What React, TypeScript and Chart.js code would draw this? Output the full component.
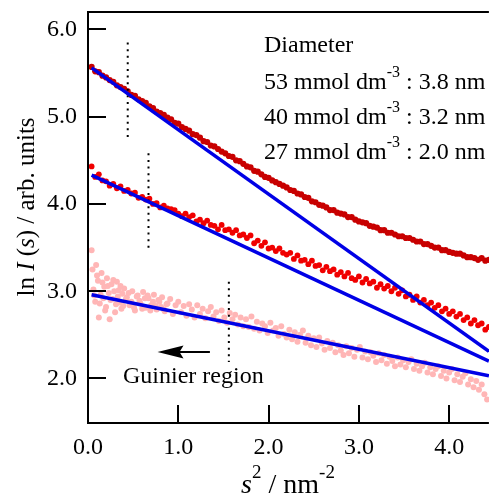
import React, { useEffect, useRef } from "react";
import { Chart, registerables } from "chart.js";

Chart.register(...registerables);

// s^2 grid (nm^-2) for the 53 and 40 mmol dm^-3 curves
const sGrid = [
  0.04, 0.08, 0.12, 0.16, 0.2, 0.24, 0.28, 0.32, 0.36, 0.4,
  0.44, 0.48, 0.52, 0.56, 0.6, 0.64, 0.68, 0.72, 0.76, 0.8,
  0.84, 0.88, 0.92, 0.96, 1.0, 1.04, 1.08, 1.12, 1.16, 1.2,
  1.24, 1.28, 1.32, 1.36, 1.4, 1.44, 1.48, 1.52, 1.56, 1.6,
  1.64, 1.68, 1.72, 1.76, 1.8, 1.84, 1.88, 1.92, 1.96, 2.0,
  2.04, 2.08, 2.12, 2.16, 2.2, 2.24, 2.28, 2.32, 2.36, 2.4,
  2.44, 2.48, 2.52, 2.56, 2.6, 2.64, 2.68, 2.72, 2.76, 2.8,
  2.84, 2.88, 2.92, 2.96, 3.0, 3.04, 3.08, 3.12, 3.16, 3.2,
  3.24, 3.28, 3.32, 3.36, 3.4, 3.44, 3.48, 3.52, 3.56, 3.6,
  3.64, 3.68, 3.72, 3.76, 3.8, 3.84, 3.88, 3.92, 3.96, 4.0,
  4.04, 4.08, 4.12, 4.16, 4.2, 4.24, 4.28, 4.32, 4.36, 4.4, 4.44,
];

// ln I(s), 53 mmol dm^-3
const lnI53 = [
  5.57, 5.52, 5.51, 5.47, 5.45, 5.42, 5.4, 5.36, 5.34, 5.32,
  5.29, 5.25, 5.24, 5.2, 5.18, 5.16, 5.12, 5.1, 5.06, 5.04,
  5.02, 4.99, 4.97, 4.93, 4.92, 4.88, 4.86, 4.84, 4.8, 4.79,
  4.76, 4.72, 4.71, 4.67, 4.66, 4.63, 4.6, 4.58, 4.55, 4.54,
  4.5, 4.49, 4.46, 4.43, 4.42, 4.38, 4.37, 4.34, 4.31, 4.3,
  4.27, 4.25, 4.23, 4.21, 4.19, 4.16, 4.15, 4.12, 4.11, 4.08,
  4.07, 4.03, 4.02, 3.99, 3.98, 3.96, 3.93, 3.93, 3.9, 3.89,
  3.88, 3.85, 3.85, 3.82, 3.8, 3.79, 3.78, 3.75, 3.74, 3.73,
  3.7, 3.7, 3.67, 3.67, 3.65, 3.63, 3.63, 3.61, 3.61, 3.59,
  3.57, 3.57, 3.54, 3.54, 3.52, 3.5, 3.5, 3.47, 3.47, 3.45,
  3.44, 3.43, 3.43, 3.41, 3.39, 3.39, 3.38, 3.36, 3.38, 3.35, 3.36,
];

// ln I(s), 40 mmol dm^-3
const lnI40 = [
  4.43, 4.31, 4.34, 4.27, 4.26, 4.21, 4.23, 4.18, 4.2, 4.15,
  4.16, 4.12, 4.13, 4.07, 4.08, 4.05, 4.06, 4.0, 4.01, 3.96,
  3.98, 3.95, 3.94, 3.93, 3.89, 3.86, 3.89, 3.85, 3.87, 3.8,
  3.82, 3.78, 3.81, 3.76, 3.75, 3.71, 3.76, 3.7, 3.71, 3.67,
  3.7, 3.64, 3.65, 3.61, 3.64, 3.55, 3.58, 3.52, 3.56, 3.49,
  3.5, 3.46, 3.49, 3.44, 3.42, 3.44, 3.37, 3.41, 3.35, 3.36,
  3.31, 3.35, 3.29, 3.3, 3.24, 3.28, 3.23, 3.25, 3.19, 3.22,
  3.17, 3.21, 3.15, 3.13, 3.17, 3.1, 3.14, 3.09, 3.11, 3.04,
  3.08, 3.03, 3.06, 3.0, 3.04, 2.97, 3.01, 2.94, 2.96, 2.9,
  2.94, 2.87, 2.9, 2.84, 2.87, 2.81, 2.84, 2.77, 2.8, 2.74,
  2.77, 2.71, 2.74, 2.67, 2.7, 2.63, 2.67, 2.61, 2.63, 2.56, 2.59,
];

// s^2 grid for the 27 mmol dm^-3 curve
const sGrid27 = [
  0.04, 0.07, 0.1, 0.13, 0.16, 0.19, 0.22, 0.25, 0.28, 0.31,
  0.34, 0.37, 0.4, 0.43, 0.46, 0.49, 0.52, 0.55, 0.58, 0.61,
  0.64, 0.67, 0.7, 0.73, 0.76, 0.79, 0.82, 0.85, 0.88, 0.91,
  0.94, 0.97, 1.0, 1.03, 1.06, 1.09, 1.12, 1.15, 1.18, 1.21,
  1.24, 1.27, 1.3, 1.33, 1.36, 1.39, 1.42, 1.45, 1.48, 1.51,
  1.54, 1.57, 1.6, 1.63, 1.66, 1.69, 1.72, 1.75, 1.78, 1.81,
  1.84, 1.87, 1.9, 1.93, 1.96, 1.99, 2.02, 2.05, 2.08, 2.11,
  2.14, 2.17, 2.2, 2.23, 2.26, 2.29, 2.32, 2.35, 2.38, 2.41,
  2.44, 2.47, 2.5, 2.53, 2.56, 2.59, 2.62, 2.65, 2.68, 2.71,
  2.74, 2.77, 2.8, 2.83, 2.86, 2.89, 2.92, 2.95, 2.98, 3.01,
  3.04, 3.07, 3.1, 3.13, 3.16, 3.19, 3.22, 3.25, 3.28, 3.31,
  3.34, 3.37, 3.4, 3.43, 3.46, 3.49, 3.52, 3.55, 3.58, 3.61,
  3.64, 3.67, 3.7, 3.73, 3.76, 3.79, 3.82, 3.85, 3.88, 3.91,
  3.94, 3.97, 4.0, 4.03, 4.06, 4.09, 4.12, 4.15, 4.18, 4.21,
  4.24, 4.27, 4.3, 4.33, 4.36, 4.39, 4.42,
];

// ln I(s), 27 mmol dm^-3
const lnI27 = [
  3.47, 2.95, 3.18, 2.86, 3.1, 2.78, 3.06, 2.9, 3.13, 2.85,
  3.01, 2.8, 3.03, 2.93, 2.84, 3.0, 2.78, 2.95, 2.86, 2.99,
  2.81, 2.92, 2.84, 2.96, 2.79, 2.88, 2.93, 2.77, 2.86, 2.91,
  2.74, 2.84, 2.88, 2.76, 2.83, 2.72, 2.85, 2.79, 2.7, 2.84,
  2.74, 2.8, 2.69, 2.77, 2.82, 2.71, 2.76, 2.66, 2.78, 2.7,
  2.64, 2.75, 2.68, 2.73, 2.62, 2.7, 2.6, 2.68, 2.59, 2.71,
  2.57, 2.65, 2.55, 2.63, 2.6, 2.52, 2.64, 2.55, 2.58, 2.49,
  2.6, 2.51, 2.47, 2.56, 2.45, 2.53, 2.42, 2.5, 2.55, 2.41,
  2.49, 2.38, 2.46, 2.36, 2.47, 2.4, 2.33, 2.43, 2.35, 2.41,
  2.3, 2.38, 2.32, 2.27, 2.37, 2.29, 2.35, 2.25, 2.33, 2.36,
  2.24, 2.31, 2.22, 2.3, 2.26, 2.19, 2.29, 2.21, 2.27, 2.17,
  2.25, 2.2, 2.14, 2.24, 2.16, 2.21, 2.13, 2.19, 2.22, 2.11,
  2.17, 2.09, 2.14, 2.18, 2.07, 2.13, 2.05, 2.11, 2.14, 2.03,
  2.09, 2.0, 2.07, 2.11, 1.98, 2.05, 1.96, 2.02, 2.06, 1.93,
  1.99, 1.9, 1.97, 1.87, 1.93, 1.82, 1.76,
];

// extra (denser) low-angle points of the 27 mmol dm^-3 curve
const sGrid27Low = [
  0.05, 0.06, 0.08, 0.09, 0.11, 0.12, 0.14, 0.15, 0.17, 0.18,
  0.2, 0.21, 0.23, 0.24, 0.26, 0.27, 0.29, 0.3, 0.32, 0.33,
  0.35, 0.36, 0.38, 0.39, 0.42, 0.45, 0.48, 0.51, 0.54, 0.57,
  0.6, 0.63, 0.66, 0.69, 0.72, 0.75, 0.78, 0.81, 0.84, 0.87,
];
const lnI27Low = [
  3.25, 3.02, 2.88, 3.3, 3.12, 2.7, 2.96, 3.21, 2.92, 3.05,
  2.82, 3.15, 2.98, 2.68, 3.08, 2.91, 3.0, 2.76, 3.11, 2.94,
  2.87, 3.06, 2.97, 2.83, 2.91, 2.98, 2.88, 2.81, 2.94, 2.89,
  2.8, 2.92, 2.95, 2.78, 2.88, 2.83, 2.9, 2.82, 2.79, 2.85,
];

// Guinier fit lines (end points)
const fitS = [0.04, 4.44];
const fit53 = [5.56, 2.31];
const fit40 = [4.33, 2.2];
const fit27 = [2.96, 2.03];

// Guinier region limits (dotted verticals)
const guinierS = [0.44, 0.67, 1.56];
const guinierTop = [5.85, 4.58, 3.11];
const guinierBottom = [4.72, 3.47, 2.19];

// arrow (tail -> tip) and its level
const arrowS = [1.35, 0.77];
const arrowLn = 2.3;

const xTickValues = [0, 1, 2, 3, 4];
const yTickValues = [2, 3, 4, 5, 6];

const legendConc = ["53", "40", "27"];
const legendDiam = ["3.8", "3.2", "2.0"];

const SERIF = "'Liberation Serif', 'Times New Roman', serif";
const font = (size: number, italic = false) =>
  `${italic ? "italic " : ""}${size}px ${SERIF}`;

type Run = { t: string; f: string; dy?: number };

function runsWidth(ctx: CanvasRenderingContext2D, runs: Run[]) {
  let w = 0;
  for (const r of runs) {
    ctx.font = r.f;
    w += ctx.measureText(r.t).width;
  }
  return w;
}

function drawRuns(ctx: CanvasRenderingContext2D, x: number, y: number, runs: Run[]) {
  let cx = x;
  for (const r of runs) {
    ctx.font = r.f;
    ctx.fillText(r.t, cx, y + (r.dy || 0));
    cx += ctx.measureText(r.t).width;
  }
}

const annotate = {
  id: "annotate",
  afterDatasetsDraw(chart: any) {
    const { ctx, chartArea: a, scales } = chart;
    const xs = scales.x;
    const ys = scales.y;
    ctx.save();
    ctx.strokeStyle = "#000";
    ctx.fillStyle = "#000";
    ctx.lineWidth = 2;
    ctx.setLineDash([]);
    // frame
    ctx.beginPath();
    ctx.moveTo(a.left - 1, a.top);
    ctx.lineTo(a.right, a.top);
    ctx.moveTo(a.left, a.top);
    ctx.lineTo(a.left, a.bottom + 1);
    ctx.moveTo(a.left - 1, a.bottom);
    ctx.lineTo(a.right, a.bottom);
    // inward ticks
    for (const v of yTickValues) {
      const py = Math.round(ys.getPixelForValue(v));
      ctx.moveTo(a.left, py);
      ctx.lineTo(a.left + 18, py);
    }
    for (const v of xTickValues) {
      const px = Math.round(xs.getPixelForValue(v));
      ctx.moveTo(px, a.bottom);
      ctx.lineTo(px, a.bottom - 18);
    }
    ctx.stroke();

    // arrow
    const tail = xs.getPixelForValue(arrowS[0]);
    const tip = xs.getPixelForValue(arrowS[1]);
    const ay = Math.round(ys.getPixelForValue(arrowLn));
    ctx.beginPath();
    ctx.moveTo(tail, ay);
    ctx.lineTo(tip + 20, ay);
    ctx.stroke();
    ctx.beginPath();
    ctx.moveTo(tip, ay);
    ctx.lineTo(tip + 26, ay - 6.5);
    ctx.lineTo(tip + 22, ay);
    ctx.lineTo(tip + 26, ay + 6.5);
    ctx.closePath();
    ctx.fill();

    // text
    ctx.textBaseline = "alphabetic";
    ctx.textAlign = "left";
    ctx.font = font(24);
    ctx.fillText("Guinier region", 123, 383);

    ctx.fillText("Diameter", 264, 52);
    const baselines = [89, 124, 159];
    legendConc.forEach((c, i) => {
      drawRuns(ctx, 264, baselines[i], [
        { t: `${c} mmol dm`, f: font(24) },
        { t: "-3", f: font(16), dy: -12 },
        { t: ` : ${legendDiam[i]} nm`, f: font(24) },
      ]);
    });

    // x title
    const xRuns: Run[] = [
      { t: "s", f: font(28, true) },
      { t: "2", f: font(19), dy: -15 },
      { t: " / nm", f: font(28) },
      { t: "-2", f: font(19), dy: -15 },
    ];
    const xw = runsWidth(ctx, xRuns);
    drawRuns(ctx, 288 - xw / 2, 493, xRuns);

    // y title
    const yRuns: Run[] = [
      { t: "ln ", f: font(25) },
      { t: "I", f: font(25, true) },
      { t: " (", f: font(25) },
      { t: "s", f: font(25, true) },
      { t: ") / arb. units", f: font(25) },
    ];
    const yw = runsWidth(ctx, yRuns);
    ctx.translate(34, 207);
    ctx.rotate(-Math.PI / 2);
    drawRuns(ctx, -yw / 2, 0, yRuns);
    ctx.restore();
  },
};

export default function App() {
  const ref = useRef<HTMLCanvasElement | null>(null);

  useEffect(() => {
    document.body.style.margin = "0";
    const canvas = ref.current;
    if (!canvas) return;

    const pts = (xs: number[], ys: number[]) => xs.map((x, i) => ({ x, y: ys[i] }));

    const fitLine = (ys: number[]) => ({
      data: pts(fitS, ys),
      showLine: true,
      borderColor: "#0000e6",
      borderWidth: 3.5,
      pointRadius: 0,
      order: 0,
    });

    const dotted = guinierS.map((s, i) => ({
      data: [
        { x: s, y: guinierTop[i] },
        { x: s, y: guinierBottom[i] },
      ],
      showLine: true,
      borderColor: "#000",
      borderWidth: 2,
      borderDash: [2, 4.6],
      pointRadius: 0,
      order: 0,
    }));

    const scatter = (data: { x: number; y: number }[], color: string, r: number) => ({
      data,
      backgroundColor: color,
      borderWidth: 0,
      pointRadius: r,
      pointHoverRadius: r,
      order: 1,
    });

    const tickFont = { family: SERIF, size: 24 };

    const chart = new Chart(canvas, {
      type: "scatter",
      data: {
        datasets: [
          fitLine(fit53),
          fitLine(fit40),
          fitLine(fit27),
          ...dotted,
          scatter(pts(sGrid, lnI53), "#c80000", 3.1),
          scatter(pts(sGrid, lnI40), "#f00000", 2.9),
          scatter(
            [...pts(sGrid27, lnI27), ...pts(sGrid27Low, lnI27Low)],
            "#ffb6b6",
            3
          ),
        ] as any,
      },
      options: {
        responsive: false,
        animation: false,
        events: [],
        layout: { padding: { top: 12, left: 0, right: 0, bottom: 0 } },
        plugins: { legend: { display: false }, tooltip: { enabled: false } },
        scales: {
          x: {
            type: "linear",
            min: 0,
            max: 4.44,
            grid: { display: false, drawTicks: false },
            border: { display: false },
            ticks: {
              font: tickFont,
              color: "#000",
              padding: 10,
              maxRotation: 0,
              callback: (v: any) => Number(v).toFixed(1),
            },
            afterBuildTicks: (s: any) => {
              s.ticks = xTickValues.map((value) => ({ value }));
            },
            afterFit: (s: any) => {
              s.height = 75;
              s.paddingLeft = 0;
              s.paddingRight = 0;
            },
          },
          y: {
            type: "linear",
            min: 1.49,
            max: 6.2,
            grid: { display: false, drawTicks: false },
            border: { display: false },
            ticks: {
              font: tickFont,
              color: "#000",
              padding: 11,
              callback: (v: any) => Number(v).toFixed(1),
            },
            afterBuildTicks: (s: any) => {
              s.ticks = yTickValues.map((value) => ({ value }));
            },
            afterFit: (s: any) => {
              s.width = 88;
              s.paddingTop = 0;
              s.paddingBottom = 0;
            },
          },
        },
      } as any,
      plugins: [annotate as any],
    });

    return () => chart.destroy();
  }, []);

  return (
    <div style={{ width: 492, height: 498, background: "#fff" }}>
      <canvas ref={ref} width={492} height={498} style={{ display: "block" }} />
    </div>
  );
}
